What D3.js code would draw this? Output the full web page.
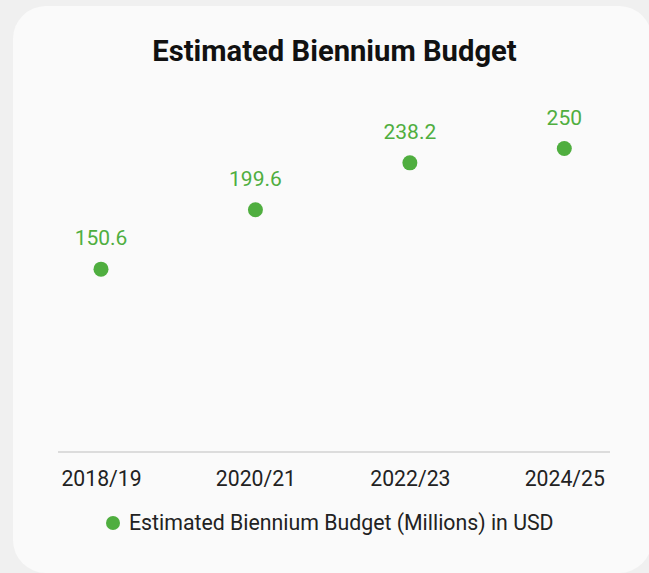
<!DOCTYPE html>
<html><head><meta charset="utf-8">
<script src="https://cdn.jsdelivr.net/npm/d3@7"></script>
<style>html,body{margin:0;padding:0;background:#f0f0f0;}svg{display:block;font-family:Roboto,sans-serif;}</style>
</head><body>
<svg id="c" width="649" height="573"></svg>
<script>
const categories = ["2018/19", "2020/21", "2022/23", "2024/25"];
const values = [150.6, 199.6, 238.2, 250];
const seriesName = "Estimated Biennium Budget (Millions) in USD";
const title = "Estimated Biennium Budget";
const green = "#4fae3f";

const svg = d3.select("#c");
svg.append("rect").attr("x",13).attr("y",6).attr("width",639).attr("height",567)
  .attr("rx",33).attr("fill","#fafafa");

svg.append("text").attr("x",334.5).attr("y",61).attr("text-anchor","middle")
  .attr("font-size",29.2).attr("font-weight","bold").attr("fill","#111").text(title);

const x = d3.scalePoint().domain(categories).range([101,564.3]);
const y = d3.scaleLinear().domain([0,300]).range([452,87.8]);

svg.append("line").attr("x1",58).attr("x2",610).attr("y1",y(0)).attr("y2",y(0))
  .attr("stroke","#dcdcdc").attr("stroke-width",2);

const ax = svg.append("g").attr("transform",`translate(0,${y(0)})`)
  .call(d3.axisBottom(x).tickSize(0).tickPadding(18));
ax.select(".domain").remove();
ax.selectAll("text").attr("font-size",21.2).attr("fill","#222").attr("font-family","Roboto,sans-serif")
  .attr("dy",null).attr("y",34);

svg.selectAll("circle.pt").data(values).join("circle").attr("class","pt")
  .attr("cx",(d,i)=>x(categories[i])).attr("cy",d=>y(d)).attr("r",7.5).attr("fill",green);

svg.selectAll("text.lbl").data(values).join("text").attr("class","lbl")
  .attr("x",(d,i)=>x(categories[i])).attr("y",d=>y(d)-24)
  .attr("text-anchor","middle").attr("font-size",21).attr("fill",green).text(d=>d);

const lg = svg.append("g");
lg.append("circle").attr("cx",113).attr("cy",523).attr("r",7).attr("fill",green);
lg.append("text").attr("x",129).attr("y",530).attr("font-size",21.3).attr("fill","#222").text(seriesName);
</script>
</body></html>
